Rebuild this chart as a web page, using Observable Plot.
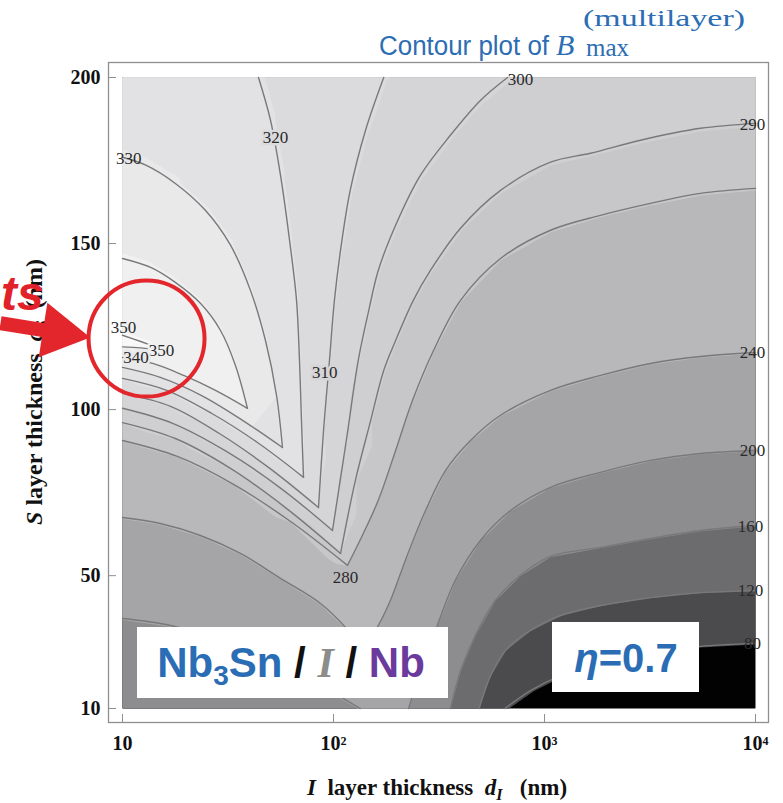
<!DOCTYPE html>
<html><head><meta charset="utf-8">
<script src="https://cdn.jsdelivr.net/npm/d3@7"></script>
<script src="https://cdn.jsdelivr.net/npm/@observablehq/plot@0.6"></script>
<style>
body{margin:0;background:#fff;}
#wrap{position:relative;width:783px;height:803px;overflow:hidden;background:#fff;}
#under,#plot,#over{position:absolute;left:0;top:0;}
#under{z-index:0}#plot{z-index:1}#over{z-index:2}
</style></head><body>
<div id="wrap">
<svg id="under" width="783" height="803">
  <text transform="translate(42,392) rotate(-90)" text-anchor="middle" font-family="'Liberation Serif',serif" font-weight="bold" font-size="24" fill="#111" xml:space="preserve"><tspan font-style="italic">S</tspan> layer thickness  <tspan font-style="italic">d</tspan><tspan font-style="italic" font-size="16" dy="5">S</tspan><tspan dy="-5">  (nm)</tspan></text>
  <text x="437" y="795" text-anchor="middle" font-family="'Liberation Serif',serif" font-weight="bold" font-size="23" fill="#111" xml:space="preserve"><tspan font-style="italic">I</tspan>  layer thickness  <tspan font-style="italic">d</tspan><tspan font-style="italic" font-size="16" dy="5">I</tspan><tspan dy="-5">   (nm)</tspan></text>
</svg>
<div id="plot"></div>
<svg id="over" width="783" height="803">
  <g fill="#2c6db3">
    <text x="379" y="55" font-family="'Liberation Sans',sans-serif" font-size="27" textLength="170" lengthAdjust="spacingAndGlyphs">Contour plot of</text>
    <text x="556" y="55" font-family="'Liberation Serif',serif" font-style="italic" font-size="30">B</text>
    <text x="583" y="26" font-family="'Liberation Serif',serif" font-size="24" textLength="162" lengthAdjust="spacingAndGlyphs">(multilayer)</text>
    <text x="586" y="56" font-family="'Liberation Serif',serif" font-size="25">max</text>
  </g>
  <rect x="137" y="627" width="311" height="71" fill="#fff"/>
  <text x="291" y="677" text-anchor="middle" font-family="'Liberation Sans',sans-serif" font-weight="bold" font-size="42" xml:space="preserve"><tspan fill="#2a6db5">Nb</tspan><tspan fill="#2a6db5" font-size="28" dy="8">3</tspan><tspan fill="#2a6db5" dy="-8">Sn</tspan><tspan fill="#111"> / </tspan><tspan fill="#8c8c8c" font-family="'Liberation Serif',serif" font-style="italic">I</tspan><tspan fill="#111"> / </tspan><tspan fill="#6a3a9c">Nb</tspan></text>
  <rect x="552" y="622" width="147" height="70" fill="#fff"/>
  <text x="626" y="672" text-anchor="middle" font-family="'Liberation Sans',sans-serif" font-weight="bold" font-size="40" fill="#2a6db5"><tspan font-style="italic">η</tspan>=0.7</text>
  <text x="1" y="310" font-family="'Liberation Sans',sans-serif" font-weight="bold" font-style="italic" font-size="48" fill="#e2222a">ts</text>
</svg>
</div>
<script>
// ---- axes ----
const xTicks = [10, 100, 1000, 10000];
const xTickLabels = ["10", "10²", "10³", "10⁴"];
const yTicks = [10, 50, 100, 150, 200];

// ---- contour levels and band colours (lowest band first) ----
const levels = [80, 120, 160, 200, 240, 280, 290, 300, 310, 320, 330, 340, 350];
const bandColors = ["#020202", "#4b4b4d", "#6c6c6e", "#8d8d8f", "#a5a5a7", "#b8b8bb", "#c7c7ca",
                    "#cfcfd1", "#d5d5d7", "#dbdbdd", "#e2e2e4", "#e9e9ea", "#f0f0f0", "#f8f8f8"];

// ---- contour lines: [dI (nm), dS (nm)] ----
const arm350u = [[10,122.4],[12.2,120.5],[16.0,117.8]];
const arm350l = [[16.0,117.8],[12.2,118.6],[10,118.9]];
const arm340u = [[10,145.5],[13.6,142.8],[17.8,138.3],[23.4,132],[29.1,123.9],[34.3,113.3],[39.1,100.4]];
const arm340l = [[39.1,100.4],[27.6,105.8],[19.5,110.3],[13.9,113.9],[10,115.7]];
const arm330u = [[10,176],[12.9,173.6],[17.8,168.1],[24.7,160],[32.5,149.5],[40.4,135.9],[47.6,120.8],[53.7,104.3],[57.3,88.6]];
const arm330l = [[57.3,88.6],[36.6,97],[23.6,104.3],[15.1,109.7],[10,112.7]];
const arm320u = [[44.1,200],[50.3,187.1],[56.1,170.5],[61.9,151],[66.8,132.9],[69,114.8],[70.5,96.7],[72.1,79.6]];
const arm320l = [[72.1,79.6],[43.6,90.1],[26.4,98.9],[16.2,105.8],[10,109.4]];
const arm310u = [[173,200],[142,184.2],[120,166],[108,148],[101,132.9],[95.7,114.8],[89.7,93.7],[84.9,70.5]];
const arm310l = [[84.9,70.5],[49.2,82.6],[28.8,92.8],[16.9,101],[10,104.9]];
const arm300u = [[668,200],[497,193.1],[358,182.6],[258,170.5],[197,155.5],[163,141.9],[147,129.9],[131,114.8],[115,90.7],[98.9,63.6]];
const arm300l = [[98.9,63.6],[55.5,76.6],[31.1,87.4],[17.4,95.8],[10,100.4]];
const arm290u = [[10000,186.2],[5487,184.7],[2851,181.1],[1652,177.2],[1068,174.5],[619,166],[400,154.6],[288,141.9],[239,132.9],[197,120.8],[173,111.8],[150,96.7],[127,78.7],[108,56.7]];
const arm290l = [[108,56.7],[59.2,70.5],[32.5,82.3],[17.8,91.3],[10,96.1]];
const arm280u = [[10000,166.6],[5487,165.1],[3180,162.1],[1842,158.5],[1068,154],[619,145.5],[400,132.9],[298,117.8],[237,102.8],[197,87.7],[163,72.7],[137,62.1],[116.5,53.1]];
const arm280l = [[116.5,53.1],[62.6,66.3],[33.6,77.5],[18.2,85.9],[10,90.7]];
const arm240r = [[10000,117.2],[5487,116],[3180,113.9],[1842,110.3],[1068,105.8],[619,98.3],[446,90.7],[340,81.7],[273,69.6],[219,54.6],[186,42.5],[161,34.4],[137,28.1]];
const arm240l = [[137,28.1],[114,34.4],[86.8,41.6],[56.1,49.2],[36.2,56.7],[23.4,62.1],[15.1,65.7],[10,67.5]];
const arm200r = [[10000,87.7],[5487,86.8],[3180,84.7],[1842,81.1],[1068,76.6],[690,69.6],[497,60.6],[378,48.6],[304,33.5],[258,21.4],[227,10]];
const arm200l = [[134,10],[86.8,16.9],[50.3,24.5],[29.1,30.5],[16.9,35],[10,37.1]];
const line160 = [[10000,65.1],[5487,63.6],[3180,61.2],[1842,58.5],[1068,55.8],[770,50.1],[584,42.5],[470,32],[400,21.4],[358,10]];
const line120 = [[10000,45.5],[5487,44.9],[3180,43.4],[1842,41],[1191,38],[858,33.5],[654,27.5],[555,19.9],[490,10]];
const line80  = [[10000,29.6],[5487,28.7],[3180,26.9],[1842,23.9],[1191,19.9],[858,15.4],[650,10]];

// values read at the frame edges between lines: [dI, dS, value]
const edgeValues = [[10,200,325],[87,200,315],[340,200,305],[2000,200,295],[10000,200,295],
  [10000,176.6,285],[10000,142,260],[10000,102.8,220],[10000,76.3,180],[10000,55.5,140],[10000,37.7,100],[10000,10,50],
  [570,10,100],[420,10,140],[288,10,180],[176,10,210],[60,10,185],[10,10,185],
  [10,24,185],[10,52.2,220],[10,78.7,260],[10,161.5,335],[10,133,345],[10,120.6,352]];

// contour labels
const labelText  = ["350","350","340","330","320","310","300","290","280","240","200","160","120","80"];
const labelLevel = [350,350,340,330,320,310,300,290,280,240,200,160,120,80];
const labelX     = [10.1,15.3,11.6,10.7,53.1,91,770,9680,114,9680,9680,9460,9460,9680];
const labelY     = [124.8,117.8,115.7,175.7,182,111.2,199.5,185.9,49.5,117.2,87.7,64.8,45.5,29.6];
const labelHalo  = [false,true,true,false,true,true,false,false,true,false,false,false,false,false];

// annotations (red)
const circleAt = [{dI: 13.0, dS: 121.4}];
const arrowShaft = [{x1: 2.64, y1: 126, x2: 4.99, y2: 123.2}];
const arrowHead = [{dI: 4.99, dS: 123.2}];

// ---- build tables ----
const arms = [
  [350, arm350u],[350, arm350l],[340, arm340u],[340, arm340l],[330, arm330u],[330, arm330l],
  [320, arm320u],[320, arm320l],[310, arm310u],[310, arm310l],[300, arm300u],[300, arm300l],
  [290, arm290u],[290, arm290l],[280, arm280u],[280, arm280l],[240, arm240r],[240, arm240l],
  [200, arm200r],[200, arm200l],[160, line160],[120, line120],[80, line80]
];
const lineRows = arms.flatMap(([level, pts], k) => pts.map(([dI, dS]) => ({dI, dS, id: k, v: level})));
const fieldPts = lineRows.map(d => ({dI: d.dI, dS: d.dS, v: d.v}))
  .concat(edgeValues.map(([dI, dS, v]) => ({dI, dS, v})));
const thresholds = [0, ...levels.map(v => v - 0.5)];
const bandOf = v => bandColors[d3.bisectRight(thresholds, v) - 1];
const labels = labelText.map((t, i) => ({t, dI: labelX[i], dS: labelY[i], level: labelLevel[i], halo: labelHalo[i]}));

const labelMarks = labels.map(d => Plot.text([d], {
  x: "dI", y: "dS", text: "t", fontSize: 17, fontWeight: "normal", fill: "#2a2a2a",
  stroke: d.halo ? bandOf(d.level - 5) : "none", strokeWidth: d.halo ? 5 : 0, paintOrder: "stroke"
}));

const chart = Plot.plot({
  width: 783, height: 803,
  marginLeft: 108, marginRight: 15, marginTop: 62, marginBottom: 81,
  style: {background: "none", fontFamily: "'Liberation Serif', serif", fontSize: "20px", fontWeight: "bold", color: "#111", overflow: "visible"},
  x: {type: "log", domain: [10, 10000], insetLeft: 14, insetRight: 13},
  y: {domain: [10, 200], insetTop: 15, insetBottom: 14},
  color: {type: "threshold", domain: thresholds.slice(1), range: bandColors},
  marks: [
    Plot.contour(fieldPts, {x: "dI", y: "dS", fill: "v", thresholds, interpolate: "barycentric",
      x1: 10, x2: 10000, y1: 10, y2: 200, pixelSize: 1, smooth: true}),
    Plot.line(lineRows, {x: "dI", y: "dS", z: "id", stroke: "#79797b", strokeWidth: 1.4, curve: "catmull-rom"}),
    ...labelMarks,
    Plot.frame({stroke: "#8f8f8f", strokeWidth: 1.3}),
    Plot.axisY(yTicks, {tickSize: 8, dx: 8, tickFormat: () => "", label: null, stroke: "#8f8f8f"}),
    Plot.axisY(yTicks, {tickSize: 0, tickPadding: 8, label: null}),
    Plot.axisX(xTicks, {tickSize: 8, dy: -8, tickFormat: () => "", label: null, stroke: "#8f8f8f"}),
    Plot.axisX(xTicks, {tickSize: 0, tickPadding: 13, label: null, tickFormat: d => xTickLabels[xTicks.indexOf(d)]}),
    Plot.dot(circleAt, {x: "dI", y: "dS", r: 58, stroke: "#e3262b", strokeWidth: 4, fill: "none"}),
    Plot.link(arrowShaft, {x1: "x1", y1: "y1", x2: "x2", y2: "y2", stroke: "#e3262b", strokeWidth: 14}),
    Plot.dot(arrowHead, {x: "dI", y: "dS", symbol: "triangle", r: 20.5, rotate: 99, fill: "#e3262b", stroke: "none"})
  ]
});
document.getElementById("plot").appendChild(chart);
</script>
</body></html>
